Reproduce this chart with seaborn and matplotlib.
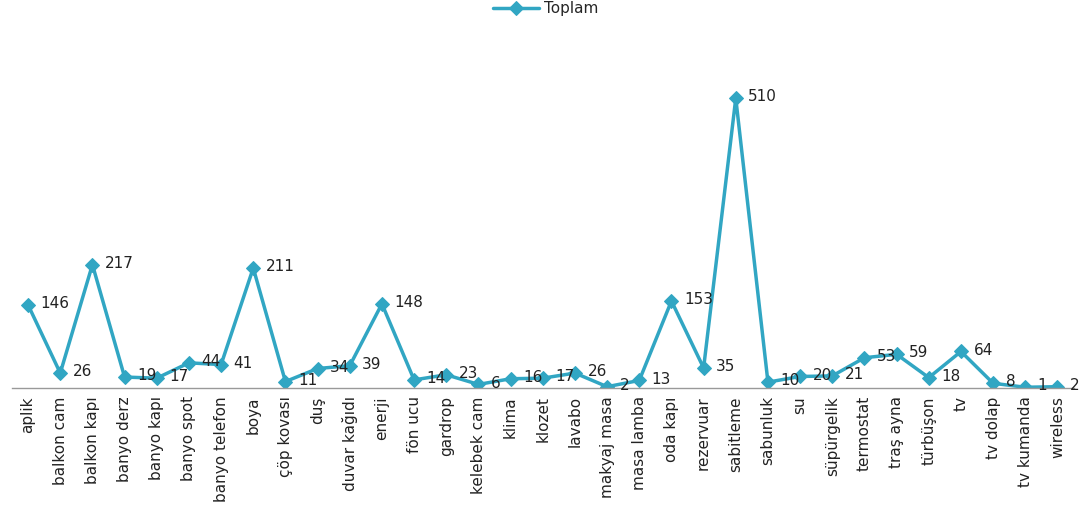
import pandas as pd
import seaborn as sns
import matplotlib.pyplot as plt

categories = ["aplik", "balkon cam", "balkon kapı", "banyo derz", "banyo kapı",
              "banyo spot", "banyo telefon", "boya", "çöp kovası", "duş",
              "duvar kağıdı", "enerji", "fön ucu", "gardrop", "kelebek cam",
              "klima", "klozet", "lavabo", "makyaj masa", "masa lamba",
              "oda kapı", "rezervuar", "sabitleme", "sabunluk", "su",
              "süpürgelik", "termostat", "traş ayna", "türbüşon", "tv",
              "tv dolap", "tv kumanda", "wireless"]
toplam = [146, 26, 217, 19, 17, 44, 41, 211, 11, 34, 39, 148, 14, 23, 6, 16,
          17, 26, 2, 13, 153, 35, 510, 10, 20, 21, 53, 59, 18, 64, 8, 1, 2]

df = pd.DataFrame({"kategori": categories, "Toplam": toplam})

sns.set_style("white")
plt.rcParams["font.family"] = ["DejaVu Sans"]

fig = plt.figure(figsize=(10.91, 5.13), dpi=100)
ax = fig.add_axes([0.011, 0.244, 0.973, 0.664])

color = "#31a6c3"
sns.lineplot(data=df, x="kategori", y="Toplam", sort=False, color=color,
             linewidth=2.5, marker="D", markersize=7, markeredgecolor=color,
             label="Toplam", ax=ax)

# data labels to the right of each point
for i, v in enumerate(toplam):
    ax.annotate(str(v), (i, v), xytext=(9, 1), textcoords="offset points",
                ha="left", va="center", fontsize=11, color="#222222")

ax.set_xlim(-0.5, len(categories) - 0.5)
ax.set_ylim(0, 600)
ax.set_xlabel("")
ax.set_ylabel("")
ax.set_yticks([])
ax.set_xticks(range(len(categories)))
ax.set_xticklabels(categories, rotation=90, fontsize=11, color="#222222")
ax.tick_params(axis="x", length=0, pad=6)

for s in ["top", "left", "right"]:
    ax.spines[s].set_visible(False)
ax.spines["bottom"].set_color("#999999")
ax.spines["bottom"].set_linewidth(1)

ax.legend(loc="upper center", bbox_to_anchor=(0.5, 1.025),
          bbox_transform=fig.transFigure, frameon=False,
          prop={"size": 11}, handlelength=3, handletextpad=0.3)

fig.savefig("out.png", dpi=100)
